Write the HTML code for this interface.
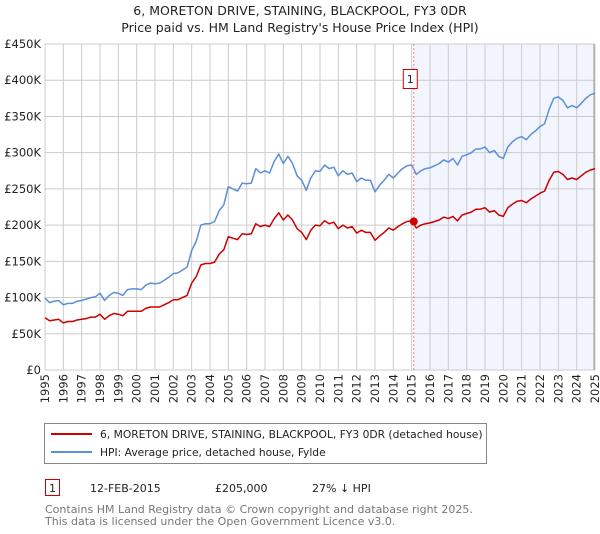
<!DOCTYPE html>
<html><head><meta charset="utf-8"><style>
body{margin:0;background:#fff;font-family:"DejaVu Sans","Liberation Sans",sans-serif;}
svg text{font-family:"DejaVu Sans","Liberation Sans",sans-serif;}
</style></head><body>
<svg id="chart" width="600" height="530" viewBox="0 0 600 530" xmlns="http://www.w3.org/2000/svg">
<text x="300" y="15" text-anchor="middle" font-size="12.5" fill="#222">6, MORETON DRIVE, STAINING, BLACKPOOL, FY3 0DR</text>
<text x="300" y="32" text-anchor="middle" font-size="12.5" fill="#222">Price paid vs. HM Land Registry's House Price Index (HPI)</text>
<g id="plot"></g>
<g>
<rect x="44.5" y="423.5" width="442" height="40" fill="#fff" stroke="#888"/>
<line x1="51" y1="434" x2="92" y2="434" stroke="#cc0000" stroke-width="2"/>
<text x="100" y="438" font-size="10.7" fill="#222">6, MORETON DRIVE, STAINING, BLACKPOOL, FY3 0DR (detached house)</text>
<line x1="51" y1="452" x2="92" y2="452" stroke="#5b8fd6" stroke-width="2"/>
<text x="100" y="456" font-size="10.7" fill="#222">HPI: Average price, detached house, Fylde</text>
</g>
<g>
<rect x="45.5" y="479.5" width="14" height="16" fill="#fff" stroke="#cc0000"/>
<text x="52.5" y="492" text-anchor="middle" font-size="11" fill="#222">1</text>
<text x="90" y="492" font-size="11" fill="#222">12-FEB-2015</text>
<text x="215" y="492" font-size="11" fill="#222">£205,000</text>
<text x="312" y="492" font-size="11" fill="#222">27% ↓ HPI</text>
</g>
<text x="45" y="513" font-size="11" fill="#777">Contains HM Land Registry data © Crown copyright and database right 2025.</text>
<text x="45" y="525" font-size="11" fill="#777">This data is licensed under the Open Government Licence v3.0.</text>
</svg>
<script>
const startYear = 1995;
const hpiValues = [99,93,95,96, 90,92,92,95, 96,98,100,101, 106,96,103,107, 106,103,111,112, 112,111,117,120, 119,120,124,128, 133,134,138,142, 165,178,200,202, 202,205,220,228, 253,250,247,258, 257,258,278,272, 275,272,288,298, 285,295,285,268, 262,248,265,275, 274,283,278,280, 268,275,270,272, 260,265,262,262, 246,255,262,270, 265,272,278,282, 283,270,275,278, 279,282,285,290, 287,292,283,295, 297,300,305,305, 308,300,303,295, 292,308,315,320, 322,318,325,330, 336,340,360,375, 377,372,362,365, 362,368,375,380, 382];
const priceValues = [72,68,69,70, 65,67,67,69, 70,71,73,73, 77,70,75,78, 77,75,81,81, 81,81,85,87, 87,87,90,93, 97,97,100,103, 120,129,145,147, 147,149,160,166, 184,182,180,188, 187,188,202,198, 200,198,209,217, 207,214,207,195, 190,180,193,200, 199,206,202,204, 195,200,196,198, 189,193,190,190, 179,185,190,196, 193,198,202,205, 206,196,200,202, 203,205,207,211, 209,212,206,214, 216,218,222,222, 224,218,220,214, 212,224,229,233, 234,231,236,240, 244,247,262,273, 274,270,263,265, 263,268,273,276, 278];
const yTicks = [0,50,100,150,200,250,300,350,400,450];
const yTickLabels = ["£0","£50K","£100K","£150K","£200K","£250K","£300K","£350K","£400K","£450K"];
const xTicks = [1995,1996,1997,1998,1999,2000,2001,2002,2003,2004,2005,2006,2007,2008,2009,2010,2011,2012,2013,2014,2015,2016,2017,2018,2019,2020,2021,2022,2023,2024,2025];
const saleDate = [2015.115];
const salePrice = [205];

const X0=45, X1=595, Y0=370, Y1=44;
const xs = t => X0 + (t-1995)/30*(X1-X0);
const ys = v => Y0 - v/450*(Y0-Y1);
const NS="http://www.w3.org/2000/svg";
const plot=document.getElementById('plot');
function mk(tag, attrs){const e=document.createElementNS(NS,tag);for(const k in attrs)e.setAttribute(k,attrs[k]);plot.appendChild(e);return e;}

let sh=mk('rect',{x:xs(saleDate[0]),y:Y1,width:X1-xs(saleDate[0]),height:Y0-Y1,fill:'#f2f5fd'});


yTicks.forEach((v,i)=>{
  let l=mk('line',{x1:X0,x2:X1,y1:ys(v),y2:ys(v),stroke:'#cccccc','stroke-width':1});
  
  
  let t=mk('text',{x:X0-4,y:ys(v)+4,'text-anchor':'end','font-size':11.5,fill:'#222'});
  t.textContent=yTickLabels[i];
  
  
});
xTicks.forEach(yr=>{
  let l=mk('line',{x1:xs(yr),x2:xs(yr),y1:Y1,y2:Y0,stroke:'#cccccc','stroke-width':1});
  
  
  let t=mk('text',{x:0,y:0,'text-anchor':'end','font-size':11.5,fill:'#222',transform:`translate(${xs(yr)+4},374) rotate(-90)`});
  t.textContent=String(yr);
  
  
});
let rb=mk('line',{x1:X1-1,x2:X1-1,y1:Y1,y2:Y0,stroke:'#999','stroke-width':1});


function series(vals,color,name){
  const pts=vals.map((v,i)=>xs(startYear+i/4).toFixed(1)+','+ys(v).toFixed(1)).join(' ');
  let p=mk('polyline',{points:pts,fill:'none',stroke:color,'stroke-width':1.5,'stroke-linejoin':'round'});
  
  
}
series(hpiValues,'#5b8fd6','hpi-line');
series(priceValues,'#cc0000','price-paid-line');
let vl=mk('line',{x1:xs(saleDate[0]),x2:xs(saleDate[0]),y1:Y1,y2:Y0,stroke:'#e88','stroke-width':1,'stroke-dasharray':'2,2'});


let dot=mk('circle',{cx:xs(saleDate[0]),cy:ys(salePrice[0]),r:4,fill:'#cc0000'});


let bx=mk('rect',{x:xs(saleDate[0])-10.5,y:69.5,width:14,height:19,fill:'#fff',stroke:'#cc0000'});


let bt=mk('text',{x:xs(saleDate[0])-3.5,y:83,'text-anchor':'middle','font-size':11,fill:'#222'});
bt.textContent='1';


</script>
</body></html>
